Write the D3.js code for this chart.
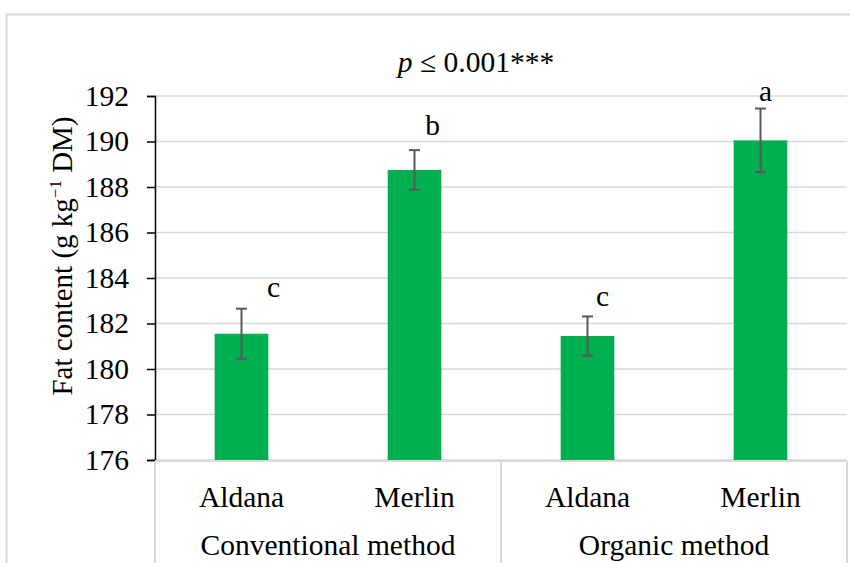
<!DOCTYPE html>
<html>
<head>
<meta charset="utf-8">
<script src="https://cdn.jsdelivr.net/npm/d3@7"></script>
<style>
  html, body { margin: 0; padding: 0; background: #fff; }
  svg text { font-family: "Liberation Serif", "Times New Roman", serif; fill: #000; }
</style>
</head>
<body>
<div id="chart"></div>
<script>
'use strict';

// --- Daten ---
const methods   = ['Conventional method', 'Organic method'];
const cultivars = ['Aldana', 'Merlin'];
const fatMean   = [181.55, 188.75, 181.45, 190.05];   // g kg-1 DM
const fatErr    = [1.1, 0.87, 0.86, 1.4];
const letters   = ['c', 'b', 'c', 'a'];
const yTicks    = [176, 178, 180, 182, 184, 186, 188, 190, 192];

// kleine Verschiebung der Buchstaben wie im Original
const letterDx = [32, 18, 15, 5];
const letterDy = [12, 15, 10, 8];

const W = 850, H = 563;
const plot = { left: 155, right: 847, top: 96, bottom: 460 };
const FONT = 29.5;
const SERIF = '"Liberation Serif", "Times New Roman", serif';

const rows = [];
methods.forEach((m, i) => cultivars.forEach((c, j) => {
  const k = i * cultivars.length + j;
  rows.push({ key: m + '|' + c, method: m, cultivar: c, mean: fatMean[k], err: fatErr[k], letter: letters[k], idx: k });
}));

const svg = d3.select('#chart').append('svg')
  .attr('width', W).attr('height', H);

// Rahmen des Diagramms (rechts/unten abgeschnitten)
svg.append('rect')
  .attr('x', 6.5).attr('y', 14.5)
  .attr('width', W + 20).attr('height', H + 20)
  .attr('fill', 'none').attr('stroke', '#d9d9d9').attr('stroke-width', 2);

const x = d3.scaleBand()
  .domain(rows.map(d => d.key))
  .range([plot.left, plot.right])
  .paddingInner(0.69).paddingOuter(0.345);

const y = d3.scaleLinear().domain([176, 192]).range([plot.bottom, plot.top]);

// Gitterlinien
svg.append('g').selectAll('line')
  .data(yTicks)
  .join('line')
  .attr('x1', plot.left).attr('x2', plot.right)
  .attr('y1', d => y(d)).attr('y2', d => y(d))
  .attr('stroke', '#d9d9d9').attr('stroke-width', 1.5);

// Balken
svg.append('g').selectAll('rect')
  .data(rows)
  .join('rect')
  .attr('x', d => x(d.key))
  .attr('width', x.bandwidth())
  .attr('y', d => y(d.mean))
  .attr('height', d => y(176) - y(d.mean))
  .attr('fill', '#00b050');

// Fehlerbalken
const eb = svg.append('g').attr('stroke', '#595959').attr('stroke-width', 2);
rows.forEach(d => {
  const cx = x(d.key) + x.bandwidth() / 2;
  eb.append('line').attr('x1', cx).attr('x2', cx)
    .attr('y1', y(d.mean + d.err)).attr('y2', y(d.mean - d.err));
  [d.mean + d.err, d.mean - d.err].forEach(v => {
    eb.append('line').attr('x1', cx - 5.5).attr('x2', cx + 5.5)
      .attr('y1', y(v)).attr('y2', y(v));
  });
});

// Signifikanz-Buchstaben
svg.append('g').selectAll('text')
  .data(rows)
  .join('text')
  .attr('x', d => x(d.key) + x.bandwidth() / 2 + letterDx[d.idx])
  .attr('y', d => y(d.mean + d.err) - letterDy[d.idx])
  .attr('text-anchor', 'middle')
  .attr('font-size', FONT)
  .text(d => d.letter);

// Y-Achse
const yAxis = svg.append('g')
  .attr('transform', `translate(${plot.left},0)`)
  .call(d3.axisLeft(y).tickValues(yTicks).tickSize(8).tickPadding(18).tickFormat(d3.format('d')));
yAxis.attr('font-family', null).attr('font-size', null);
yAxis.select('.domain').attr('stroke', '#000').attr('stroke-width', 1.5);
yAxis.selectAll('.tick line').attr('stroke', '#000').attr('stroke-width', 1.5);
yAxis.selectAll('.tick text')
  .style('font-family', SERIF)
  .style('font-size', FONT + 'px')
  .attr('fill', '#000');

// Kategorie-Achse (zweistufig)
const cat = svg.append('g').attr('stroke', '#d9d9d9').attr('stroke-width', 2).attr('fill', 'none');
cat.append('line').attr('x1', plot.left).attr('x2', plot.right)
  .attr('y1', plot.bottom + 1).attr('y2', plot.bottom + 1);
const groupW = (plot.right - plot.left) / methods.length;
d3.range(methods.length + 1).forEach(i => {
  const gx = plot.left + i * groupW;
  cat.append('line').attr('x1', gx).attr('x2', gx)
    .attr('y1', plot.bottom + 1).attr('y2', H + 5);
});

svg.append('g').selectAll('text')
  .data(rows)
  .join('text')
  .attr('x', d => x(d.key) + x.bandwidth() / 2)
  .attr('y', 507)
  .attr('text-anchor', 'middle')
  .attr('font-size', FONT)
  .text(d => d.cultivar);

svg.append('g').selectAll('text')
  .data(methods)
  .join('text')
  .attr('x', (d, i) => plot.left + (i + 0.5) * groupW)
  .attr('y', 555)
  .attr('text-anchor', 'middle')
  .attr('font-size', FONT)
  .text(d => d);

// Titel
const title = svg.append('text')
  .attr('x', 476).attr('y', 72)
  .attr('text-anchor', 'middle')
  .attr('font-size', FONT);
title.append('tspan').attr('font-style', 'italic').text('p');
title.append('tspan').text(' ≤ 0.001***');

// Y-Achsentitel
const yl = svg.append('text')
  .attr('transform', 'translate(72,256) rotate(-90)')
  .attr('text-anchor', 'middle')
  .attr('font-size', 29);
yl.append('tspan').text('Fat content (g kg');
yl.append('tspan').attr('font-size', 17).attr('dy', -11).text('−1');
yl.append('tspan').attr('dy', 11).text(' DM)');
</script>
</body>
</html>
